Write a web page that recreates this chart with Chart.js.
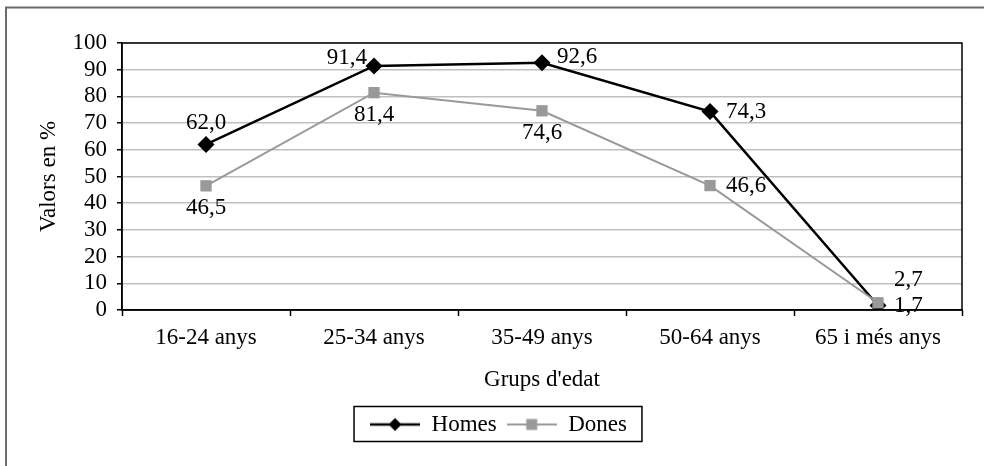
<!DOCTYPE html>
<html>
<head>
<meta charset="utf-8">
<script src="https://cdn.jsdelivr.net/npm/chart.js@4/dist/chart.umd.min.js"></script>
<style>
  html, body { margin: 0; padding: 0; background: #fff; }
  #wrap { width: 984px; height: 466px; position: relative; }
</style>
</head>
<body>
<div id="wrap"><canvas id="c" width="984" height="466"></canvas></div>
<script>
// ---- data ----
const categories = ['16-24 anys', '25-34 anys', '35-49 anys', '50-64 anys', '65 i més anys'];
const homes = [62.0, 91.4, 92.6, 74.3, 1.7];
const dones = [46.5, 81.4, 74.6, 46.6, 2.7];
const seriesNames = ['Homes', 'Dones'];
const yTicks = [0, 10, 20, 30, 40, 50, 60, 70, 80, 90, 100];
const xTitle = "Grups d'edat";
const yTitle = 'Valors en %';

// ---- style ----
const FONT = "'Liberation Serif', 'Times New Roman', serif";
const FS = 23;
const homesColor = '#000000';
const donesColor = '#999999';
// label placement (style only)
const homesPlace = ['above', 'aboveLeft', 'aboveRight', 'right', 'right'];
const donesPlace = ['below', 'below', 'below', 'right', 'rightAbove'];

function legendIcon(color, style, r) {
  const cv = document.createElement('canvas');
  cv.width = 50; cv.height = 16;
  const g = cv.getContext('2d');
  g.strokeStyle = color; g.lineWidth = style === 'diamond' ? 2.5 : 2;
  g.beginPath(); g.moveTo(0, 8); g.lineTo(50, 8); g.stroke();
  g.fillStyle = color;
  g.beginPath();
  if (style === 'diamond') {
    g.moveTo(25, 8 - r); g.lineTo(25 + r, 8); g.lineTo(25, 8 + r); g.lineTo(25 - r, 8); g.closePath();
  } else {
    g.rect(25 - r, 8 - r, 2 * r, 2 * r);
  }
  g.fill();
  return cv;
}
const icons = [legendIcon(homesColor, 'diamond', 6.5), legendIcon(donesColor, 'square', 5.5)];

const fmt = v => v.toFixed(1).replace('.', ',');

const decorPlugin = {
  id: 'decor',
  beforeDraw(chart) {
    const ctx = chart.ctx;
    ctx.save();
    ctx.strokeStyle = '#6b6b6b';
    ctx.lineWidth = 2;
    ctx.beginPath();
    ctx.moveTo(6, 466); ctx.lineTo(6, 7.5); ctx.lineTo(984, 7.5);
    ctx.stroke();
    ctx.restore();
  },
  afterDatasetsDraw(chart) {
    const ctx = chart.ctx;
    const a = chart.chartArea;
    ctx.save();
    ctx.strokeStyle = '#000';
    ctx.lineWidth = 1.5;
    ctx.strokeRect(a.left, a.top, a.right - a.left, a.bottom - a.top);
    // data labels
    ctx.fillStyle = '#000';
    ctx.font = FS + 'px ' + FONT;
    ctx.textBaseline = 'middle';
    const places = [homesPlace, donesPlace];
    chart.data.datasets.forEach((ds, di) => {
      const meta = chart.getDatasetMeta(di);
      meta.data.forEach((pt, i) => {
        const txt = fmt(ds.data[i]);
        const p = places[di][i];
        let x = pt.x, y = pt.y, align = 'center';
        if (p === 'above') { y -= 22; }
        else if (p === 'below') { y += 22; }
        else if (p === 'right') { x += 16; align = 'left'; }
        else if (p === 'aboveLeft') { x -= 7; y -= 8; align = 'right'; }
        else if (p === 'aboveRight') { x += 15; y -= 6; align = 'left'; }
        else if (p === 'rightAbove') { x += 16; y -= 23; align = 'left'; }
        ctx.textAlign = align;
        ctx.fillText(txt, x, y);
      });
    });
    ctx.restore();
  },
  afterDraw(chart) {
    const lg = chart.legend;
    if (!lg || !lg.legendHitBoxes || !lg.legendHitBoxes.length) return;
    const hb = lg.legendHitBoxes;
    const first = hb[0], last = hb[hb.length - 1];
    const cy = first.top + first.height / 2;
    const ctx = chart.ctx;
    ctx.save();
    ctx.strokeStyle = '#000';
    ctx.lineWidth = 1.5;
    const l = first.left - 16, r = last.left + last.width + 15;
    ctx.strokeRect(l, cy - 18, r - l, 35);
    ctx.restore();
  }
};

new Chart(document.getElementById('c'), {
  type: 'line',
  data: {
    labels: categories,
    datasets: [
      {
        label: seriesNames[0], data: homes, order: 1,
        borderColor: homesColor, backgroundColor: homesColor, borderWidth: 2.5,
        pointStyle: 'rectRot', pointRadius: 8.5, pointBackgroundColor: homesColor, pointBorderWidth: 0,
        tension: 0, fill: false
      },
      {
        label: seriesNames[1], data: dones, order: 0,
        borderColor: donesColor, backgroundColor: donesColor, borderWidth: 2,
        pointStyle: 'rect', pointRadius: 8, pointBackgroundColor: donesColor, pointBorderWidth: 0,
        tension: 0, fill: false
      }
    ]
  },
  options: {
    responsive: false,
    animation: false,
    layout: { padding: { left: 35, right: 22, top: 43, bottom: 20 } },
    plugins: {
      tooltip: { enabled: false },
      legend: {
        position: 'bottom',
        labels: {
          usePointStyle: true,
          pointStyleWidth: 50,
          padding: 10,
          color: '#000',
          font: { family: FONT, size: FS },
          generateLabels(chart) {
            return chart.data.datasets.map((ds, i) => ({
              text: ds.label, pointStyle: icons[i], fillStyle: ds.borderColor,
              strokeStyle: ds.borderColor, lineWidth: 0, hidden: false, datasetIndex: i
            }));
          }
        }
      }
    },
    scales: {
      x: {
        type: 'category',
        offset: true,
        afterFit(s) { s.height = 93; },
        grid: { offset: true, drawOnChartArea: false, drawTicks: true, tickLength: 6, tickColor: '#000', tickWidth: 1.5 },
        border: { display: true, color: '#000', width: 1.5 },
        ticks: { color: '#000', font: { family: FONT, size: FS }, padding: 8, maxRotation: 0, autoSkip: false },
        title: { display: true, text: xTitle, color: '#000', font: { family: FONT, size: FS }, padding: { top: 0, bottom: 9 } }
      },
      y: {
        min: 0, max: 100,
        afterFit(s) { s.width = 87; },
        afterBuildTicks(s) { s.ticks = yTicks.map(v => ({ value: v })); },
        grid: { color: '#bfbfbf', lineWidth: 1.5, drawTicks: true, tickLength: 5, tickColor: '#000', tickWidth: 1.5 },
        border: { display: true, color: '#000', width: 1.5 },
        ticks: { color: '#000', font: { family: FONT, size: FS }, padding: 10, autoSkip: false },
        title: { display: true, text: yTitle, color: '#000', font: { family: FONT, size: FS }, padding: { top: 0, bottom: 0 } }
      }
    }
  },
  plugins: [decorPlugin]
});
</script>
</body>
</html>
